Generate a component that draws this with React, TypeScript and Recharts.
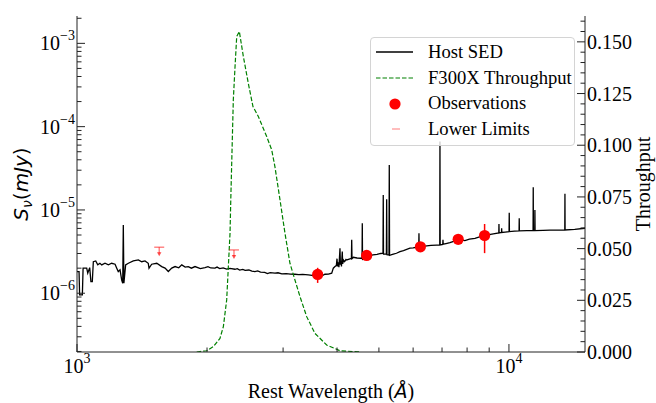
import React from 'react';
import { ComposedChart, Line, Scatter, XAxis, YAxis, ErrorBar } from 'recharts';

// ---------- data ----------
// Host SED: [rest wavelength (Å), flux density (mJy)]
const sedSpectrum: [number, number][] = [
  [1000, 1.82e-6], [1011, 1.82e-6], [1014, 0.955e-6], [1029, 0.955e-6], [1033, 2.0e-6], [1053, 2.0e-6],
  [1059, 1.74e-6], [1070, 2.03e-6], [1077, 1.38e-6], [1085, 1.38e-6], [1091, 2.39e-6], [1105, 2.44e-6],
  [1117, 2.19e-6], [1130, 2.29e-6], [1141, 2.19e-6], [1161, 2.29e-6], [1182, 2.19e-6], [1203, 2.29e-6],
  [1225, 2.23e-6], [1236, 2.0e-6], [1246, 1.82e-6], [1258, 1.91e-6], [1269, 1.44e-6], [1276, 1.32e-6],
  [1280, 6.6e-6], [1284, 1.32e-6], [1296, 2.19e-6], [1315, 2.29e-6], [1350, 2.44e-6], [1387, 2.51e-6],
  [1412, 2.39e-6], [1437, 2.44e-6], [1462, 2.29e-6], [1468, 2.0e-6], [1489, 2.23e-6], [1530, 2.29e-6],
  [1571, 2.09e-6], [1599, 2.0e-6], [1627, 1.82e-6], [1657, 2.0e-6], [1687, 2.09e-6], [1720, 2.02e-6],
  [1748, 2.19e-6], [1780, 2.06e-6], [1810, 2.09e-6], [1840, 2.0e-6], [1876, 2.09e-6], [1930, 1.98e-6],
  [1979, 2.03e-6], [2010, 2.08e-6], [2040, 2.01e-6], [2086, 2.0e-6], [2110, 2.06e-6], [2140, 1.98e-6],
  [2180, 2.02e-6], [2220, 1.95e-6], [2260, 1.99e-6], [2321, 1.94e-6], [2350, 1.97e-6], [2380, 1.9e-6],
  [2420, 1.93e-6], [2450, 1.88e-6], [2500, 1.9e-6], [2540, 1.84e-6], [2582, 1.82e-6], [2620, 1.85e-6],
  [2660, 1.79e-6], [2720, 1.78e-6], [2760, 1.72e-6], [2800, 1.77e-6], [2873, 1.74e-6], [2920, 1.76e-6],
  [2980, 1.71e-6], [3050, 1.72e-6], [3120, 1.7e-6], [3196, 1.69e-6], [3260, 1.67e-6], [3330, 1.68e-6],
  [3431, 1.66e-6], [3500, 1.64e-6], [3560, 1.62e-6], [3640, 1.66e-6], [3700, 1.63e-6], [3750, 1.69e-6],
  [3820, 1.7e-6], [3888, 1.74e-6], [3921, 2.0e-6], [3956, 2.09e-6], [3985, 2.15e-6], [3999, 2.6e-6],
  [4010, 2.1e-6], [4025, 2.35e-6], [4040, 2.05e-6], [4063, 3.47e-6], [4072, 2.2e-6], [4085, 2.45e-6],
  [4095, 2.1e-6], [4113, 3.16e-6], [4122, 2.25e-6], [4140, 2.5e-6], [4165, 2.4e-6], [4195, 2.55e-6],
  [4210, 2.51e-6], [4250, 2.55e-6], [4300, 2.6e-6], [4318, 2.6e-6], [4325, 4.37e-6], [4332, 2.6e-6],
  [4363, 2.7e-6], [4450, 2.65e-6], [4540, 2.63e-6], [4570, 2.63e-6], [4576, 6.92e-6], [4582, 2.5e-6],
  [4610, 2.75e-6], [4684, 2.8e-6], [4760, 2.83e-6], [4846, 2.88e-6], [4950, 2.92e-6], [5050, 3.0e-6],
  [5110, 3.02e-6], [5117, 1.51e-5], [5124, 2.95e-6], [5203, 2.95e-6], [5211, 1.34e-5], [5219, 2.9e-6],
  [5276, 2.88e-6], [5284, 3.47e-5], [5292, 2.85e-6], [5330, 2.88e-6], [5400, 2.95e-6], [5490, 3.02e-6],
  [5593, 3.16e-6], [5700, 3.25e-6], [5898, 3.47e-6], [6000, 3.5e-6], [6100, 3.55e-6], [6183, 3.58e-6],
  [6190, 5.25e-6], [6197, 3.58e-6], [6300, 3.63e-6], [6450, 3.7e-6], [6600, 3.75e-6], [6800, 3.78e-6],
  [6915, 3.8e-6], [6923, 6.61e-5], [6931, 3.8e-6], [7027, 3.85e-6], [7035, 4.37e-6], [7043, 3.88e-6],
  [7150, 3.95e-6], [7300, 4.05e-6], [7450, 4.2e-6], [7630, 4.4e-6], [7780, 4.35e-6], [7910, 4.28e-6],
  [8100, 4.45e-6], [8343, 4.57e-6], [8550, 4.75e-6], [8783, 4.9e-6], [9000, 5.05e-6], [9198, 5.15e-6],
  [9474, 5.3e-6], [9482, 6.79e-6], [9490, 5.3e-6], [9611, 5.36e-6], [9619, 6.03e-6], [9627, 5.37e-6],
  [9800, 5.42e-6], [10006, 5.49e-6], [10016, 9.28e-6], [10026, 5.49e-6], [10300, 5.56e-6], [10555, 5.62e-6],
  [10564, 7.95e-6], [10573, 5.62e-6], [11000, 5.63e-6], [11373, 5.64e-6], [11383, 1.87e-5], [11393, 5.64e-6],
  [11475, 5.65e-6], [11485, 1.0e-5], [11495, 5.65e-6], [12000, 5.68e-6], [12438, 5.71e-6], [13000, 5.73e-6],
  [13468, 5.75e-6], [13479, 1.56e-5], [13490, 5.75e-6], [14200, 5.85e-6], [15000, 6.03e-6],
];

// F300X throughput: [rest wavelength (Å), throughput]
const throughputCurve: [number, number][] = [
  [1893, 0], [1927, 0.0002], [1996, 0.0006], [2068, 0.0026], [2143, 0.0066], [2182, 0.0123],
  [2221, 0.0252], [2261, 0.0575], [2270, 0.0736], [2301, 0.122], [2322, 0.138], [2343, 0.1526],
  [2376, 0.155], [2427, 0.143], [2492, 0.13], [2555, 0.1187], [2629, 0.1139], [2749, 0.1042],
  [2823, 0.0978], [2872, 0.0897], [2951, 0.0736], [3030, 0.0575], [3112, 0.0429], [3196, 0.0348],
  [3283, 0.0268], [3402, 0.0171], [3556, 0.009], [3784, 0.0034], [4062, 0.0006], [4519, 0],
];

// Observations
const obsWavelength = [3607, 4684, 6238, 7630, 8783];
const obsFlux = [1.68e-6, 2.84e-6, 3.61e-6, 4.44e-6, 4.93e-6];
const obsLow = [1.33e-6, 2.72e-6, 3.48e-6, 4.3e-6, 3.03e-6];
const obsHigh = [2.02e-6, 2.96e-6, 3.74e-6, 4.58e-6, 6.78e-6];

// Lower limits
const limitWavelength = [1550, 2309];
const limitFlux = [3.57e-6, 3.31e-6];

// Axis ticks
const xMajorTicks = [1000, 10000];
const xMinorTicks = [2000, 3000, 4000, 5000, 6000, 7000, 8000, 9000];
const yDecades = [1e-7, 1e-6, 1e-5, 1e-4, 1e-3];
const rightMajorTicks = [0, 0.025, 0.05, 0.075, 0.1, 0.125, 0.15];
const legendLabels = ['Host SED', 'F300X Throughput', 'Observations', 'Lower Limits'];

const X_DOMAIN: [number, number] = [1000, 15000];
const Y_DOMAIN: [number, number] = [1.97e-7, 2.13e-3];
const R_DOMAIN: [number, number] = [0, 0.1625];

// ---------- derived tables ----------
const sedData = sedSpectrum.map(([x, f]) => ({ x, f }));
const throughputData = throughputCurve.map(([x, t]) => ({ x, t }));
const obsData = obsWavelength.map((x, i) => ({
  x,
  f: obsFlux[i],
  err: [obsFlux[i] - obsLow[i], obsHigh[i] - obsFlux[i]],
}));
const limitData = limitWavelength.map((x, i) => ({ x, f: limitFlux[i] }));

const xTicks = [...xMajorTicks, ...xMinorTicks].sort((a, b) => a - b);
const yTicks: number[] = [];
yDecades.forEach((d) => {
  for (let m = 1; m <= 9; m++) {
    const v = +(d * m).toPrecision(3);
    if (v >= Y_DOMAIN[0] && v <= Y_DOMAIN[1]) yTicks.push(v);
  }
});
const rightTicks: number[] = [];
for (let k = 0; k <= 32; k++) rightTicks.push(+(k * 0.005).toFixed(3));

const SERIF = "'Liberation Serif', 'Times New Roman', Times, 'DejaVu Serif', serif";
const MATH = "'DejaVu Sans', sans-serif";
const AXIS = '#222';
const serifStyle: React.CSSProperties = { fontFamily: SERIF };
const mathStyle: React.CSSProperties = { fontFamily: MATH };

const isPow10 = (v: number) => Math.abs(Math.log10(v) - Math.round(Math.log10(v))) < 1e-6;
const isRightMajor = (v: number) => rightMajorTicks.some((m) => Math.abs(m - v) < 1e-6);

// ---------- tick renderers ----------
const PowLabel = ({ x, y, v, anchor }: any) => {
  const e = Math.round(Math.log10(v));
  return (
    <text x={x} y={y} textAnchor={anchor} style={serifStyle} fontSize={20} fill="#000">
      10
      <tspan dy={-10} fontSize={14}>{e < 0 ? '\u2212' + Math.abs(e) : String(e)}</tspan>
    </text>
  );
};

const LeftTick = (props: any) => {
  const { x, y, payload } = props;
  const major = isPow10(payload.value);
  return (
    <g>
      <line x1={x} x2={x + (major ? 8 : 4.5)} y1={y} y2={y} stroke={AXIS} strokeWidth={1} />
      {major && <PowLabel x={x - 2} y={y + 7} v={payload.value} anchor="end" />}
    </g>
  );
};

const BottomTick = (props: any) => {
  const { x, y, payload } = props;
  const major = isPow10(payload.value);
  return (
    <g>
      <line x1={x} x2={x} y1={y} y2={y - (major ? 8 : 4.5)} stroke={AXIS} strokeWidth={1} />
      {major && <PowLabel x={x} y={y + 21} v={payload.value} anchor="middle" />}
    </g>
  );
};

const TopTick = (props: any) => {
  const { x, y, payload } = props;
  const major = isPow10(payload.value);
  return <line x1={x} x2={x} y1={y} y2={y + (major ? 8 : 4.5)} stroke={AXIS} strokeWidth={1} />;
};

const RightTick = (props: any) => {
  const { x, y, payload } = props;
  const major = isRightMajor(payload.value);
  return (
    <g>
      <line x1={x} x2={x - (major ? 8 : 4.5)} y1={y} y2={y} stroke={AXIS} strokeWidth={1} />
      {major && (
        <text x={x + 2} y={y + 7} textAnchor="start" style={serifStyle} fontSize={20} fill="#000">
          {payload.value.toFixed(3)}
        </text>
      )}
    </g>
  );
};

// ---------- axis titles ----------
const BottomTitle = (props: any) => {
  const vb = props.viewBox;
  return (
    <text x={vb.x + vb.width / 2} y={vb.y + 46} textAnchor="middle" style={serifStyle} fontSize={20} fill="#000">
      Rest Wavelength (<tspan style={mathStyle} fontStyle="italic" fontSize={19}>Å</tspan>)
    </text>
  );
};

const LeftTitle = (props: any) => {
  const vb = props.viewBox;
  const cx = vb.x + 28;
  const cy = vb.y + vb.height / 2;
  return (
    <text x={cx} y={cy} transform={`rotate(-90 ${cx} ${cy})`} textAnchor="middle" style={mathStyle} fontSize={20} fill="#000">
      <tspan fontStyle="italic">S</tspan>
      <tspan fontStyle="italic" fontSize={14} dy={4}>ν</tspan>
      <tspan dy={-4}>(</tspan>
      <tspan fontStyle="italic">mJy</tspan>
      <tspan>)</tspan>
    </text>
  );
};

const RightTitle = (props: any) => {
  const vb = props.viewBox;
  const cx = vb.x + 65;
  const cy = vb.y + vb.height / 2;
  return (
    <text x={cx} y={cy} transform={`rotate(-90 ${cx} ${cy})`} textAnchor="middle" style={serifStyle} fontSize={20} fill="#000">
      Throughput
    </text>
  );
};

// ---------- markers ----------
const ObsDot = (props: any) => {
  const { cx, cy } = props;
  if (cx == null || cy == null) return null;
  return <circle cx={cx} cy={cy} r={5.6} fill="#ff0000" />;
};

const LimitMarker = (props: any) => {
  const { cx, cy } = props;
  if (cx == null || cy == null) return null;
  return (
    <g>
      <line x1={cx - 5} x2={cx + 5} y1={cy} y2={cy} stroke="rgba(255,0,0,0.55)" strokeWidth={1.3} />
      <line x1={cx} x2={cx} y1={cy} y2={cy + 6} stroke="rgba(255,0,0,0.55)" strokeWidth={1.3} />
      <path d={`M${cx - 2.2},${cy + 5} L${cx + 2.2},${cy + 5} L${cx},${cy + 9} Z`} fill="rgba(255,0,0,0.7)" />
    </g>
  );
};

// ---------- legend ----------
const LegendBox = () => (
  <div
    style={{
      position: 'absolute',
      left: 370,
      top: 37,
      width: 205,
      height: 109,
      boxSizing: 'border-box',
      border: '1px solid #d4d4d4',
      borderRadius: 4,
      background: 'rgba(255,255,255,0.8)',
    }}
  >
    <svg width={205} height={109} style={{ position: 'absolute', left: -1, top: -1, overflow: 'visible' }}>
      <line x1={6} x2={43} y1={15} y2={15} stroke="#000" strokeWidth={1.3} />
      <line x1={6} x2={43} y1={41} y2={41} stroke="#008000" strokeWidth={1.2} strokeDasharray="4.5 2" />
      <circle cx={25} cy={67} r={5.6} fill="#ff0000" />
      <line x1={22} x2={30} y1={92} y2={92} stroke="rgba(255,0,0,0.4)" strokeWidth={1.3} />
      {legendLabels.map((t, i) => (
        <text key={t} x={58} y={21 + i * 25.7} style={serifStyle} fontSize={18.6} fill="#000">
          {t}
        </text>
      ))}
    </svg>
  </div>
);

export default function App() {
  return (
    <div style={{ position: 'absolute', left: 0, top: 0, width: 656, height: 403, background: '#fff', fontFamily: SERIF }}>
      <ComposedChart width={656} height={403} margin={{ top: 16, right: 0, bottom: 0, left: 0 }}>
        <XAxis
          xAxisId="bottom"
          type="number"
          dataKey="x"
          scale="log"
          domain={X_DOMAIN}
          allowDataOverflow
          ticks={xTicks}
          interval={0}
          tick={<BottomTick />}
          tickSize={0}
          tickMargin={0}
          tickLine={false}
          axisLine={{ stroke: AXIS }}
          height={51}
          label={BottomTitle}
        />
        <XAxis
          xAxisId="top"
          orientation="top"
          type="number"
          dataKey="x"
          scale="log"
          domain={X_DOMAIN}
          allowDataOverflow
          ticks={xTicks}
          interval={0}
          tick={<TopTick />}
          tickSize={0}
          tickMargin={0}
          tickLine={false}
          axisLine={{ stroke: AXIS }}
          height={0}
        />
        <YAxis
          yAxisId="left"
          type="number"
          scale="log"
          domain={Y_DOMAIN}
          allowDataOverflow
          ticks={yTicks}
          interval={0}
          tick={<LeftTick />}
          tickSize={0}
          tickMargin={0}
          tickLine={false}
          axisLine={{ stroke: AXIS }}
          width={77}
          label={LeftTitle}
        />
        <YAxis
          yAxisId="right"
          orientation="right"
          type="number"
          domain={R_DOMAIN}
          allowDataOverflow
          ticks={rightTicks}
          interval={0}
          tick={<RightTick />}
          tickSize={0}
          tickMargin={0}
          tickLine={false}
          axisLine={{ stroke: AXIS }}
          width={71}
          label={RightTitle}
        />
        <Line
          xAxisId="bottom"
          yAxisId="left"
          data={sedData}
          dataKey="f"
          type="linear"
          stroke="#000"
          strokeWidth={1.3}
          dot={false}
          activeDot={false}
          isAnimationActive={false}
        />
        <Scatter
          xAxisId="bottom"
          yAxisId="left"
          data={limitData}
          dataKey="f"
          shape={<LimitMarker />}
          isAnimationActive={false}
        />
        <Scatter
          xAxisId="bottom"
          yAxisId="left"
          data={obsData}
          dataKey="f"
          shape={<ObsDot />}
          isAnimationActive={false}
        >
          <ErrorBar dataKey="err" direction="y" width={0} stroke="#ff0000" strokeWidth={1.5} isAnimationActive={false} />
        </Scatter>
        <Line
          xAxisId="bottom"
          yAxisId="right"
          data={throughputData}
          dataKey="t"
          type="linear"
          stroke="#008000"
          strokeWidth={1.2}
          strokeDasharray="4.5 2"
          dot={false}
          activeDot={false}
          isAnimationActive={false}
        />
      </ComposedChart>
      <LegendBox />
    </div>
  );
}
